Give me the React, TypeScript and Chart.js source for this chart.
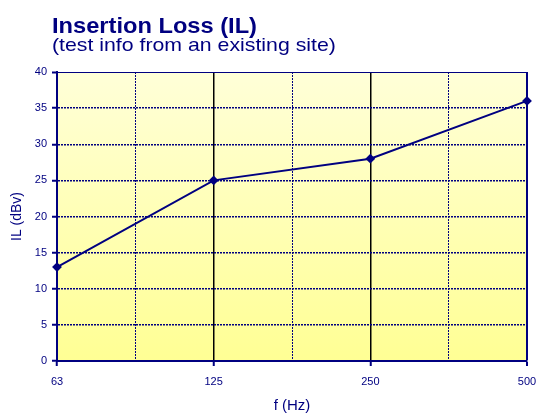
import { useEffect, useRef } from 'react';
import { Chart, registerables } from 'chart.js';

Chart.register(...registerables);

const categories = ['63', '125', '250', '500'];
const ilValues = [13, 25, 28, 36];
const yMin = 0;
const yMax = 40;
const yStep = 5;
const titleText = 'Insertion Loss (IL)';
const subtitleText = '(test info from an existing site)';
const xTitleText = 'f (Hz)';
const yTitleText = 'IL (dBv)';

const NAVY = '#000080';
const FONT = '"Liberation Sans", Arial, sans-serif';

const bgPlugin = {
  id: 'plotBg',
  beforeDraw(chart: any) {
    const { ctx, chartArea } = chart;
    const { left, top, right, bottom } = chartArea;
    const g = ctx.createLinearGradient(0, top, 0, bottom);
    g.addColorStop(0, '#FFFFD8');
    g.addColorStop(1, '#FFFF94');
    ctx.save();
    ctx.fillStyle = g;
    ctx.fillRect(left, top, right - left, bottom - top);
    ctx.restore();
  },
};

const titlePlugin = {
  id: 'stretchedTitle',
  afterDraw(chart: any) {
    const { ctx } = chart;
    ctx.save();
    ctx.fillStyle = NAVY;
    ctx.textBaseline = 'alphabetic';
    ctx.textAlign = 'left';
    ctx.font = `bold 22px ${FONT}`;
    ctx.translate(52, 33);
    ctx.scale(1.075, 1);
    ctx.fillText(titleText, 0, 0);
    ctx.restore();
    ctx.save();
    ctx.fillStyle = NAVY;
    ctx.textBaseline = 'alphabetic';
    ctx.textAlign = 'left';
    ctx.font = `19px ${FONT}`;
    ctx.translate(52, 51);
    ctx.scale(1.12, 1);
    ctx.fillText(subtitleText, 0, 0);
    ctx.restore();
  },
};

const isMajor = (v: number) => Math.abs(v - Math.round(v)) < 1e-6;

export default function App() {
  const ref = useRef<HTMLCanvasElement | null>(null);

  useEffect(() => {
    if (!ref.current) return;
    const points = ilValues.map((v, i) => ({ x: i, y: v }));
    const chart = new Chart(ref.current, {
      type: 'line',
      data: {
        datasets: [
          {
            data: points,
            borderColor: NAVY,
            backgroundColor: NAVY,
            borderWidth: 2,
            pointStyle: 'rectRot',
            pointRadius: 3.5,
            pointBackgroundColor: NAVY,
            pointBorderColor: NAVY,
            tension: 0,
            clip: false as any,
          },
        ],
      },
      options: {
        responsive: false,
        animation: false,
        layout: { padding: { top: 72, right: 10, left: 0, bottom: 0 } },
        plugins: {
          legend: { display: false },
          tooltip: { enabled: false },
          title: { display: false },
        },
        scales: {
          x: {
            type: 'linear',
            min: 0,
            max: categories.length - 1,
            afterFit(scale: any) {
              scale.height = 54;
              scale.paddingLeft = 0;
              scale.paddingRight = 0;
            },
            ticks: {
              stepSize: 0.5,
              autoSkip: false,
              maxRotation: 0,
              padding: 9,
              color: NAVY,
              font: { family: FONT, size: 11 },
              callback: (v: any) => (isMajor(Number(v)) ? categories[Math.round(Number(v))] : ''),
            },
            grid: {
              drawOnChartArea: true,
              tickLength: 5,
              color: (c: any) => {
                const v = c.tick ? c.tick.value : 0;
                if (!isMajor(v)) return NAVY;
                if (v === 0 || v === categories.length - 1) return NAVY;
                return '#000000';
              },
              lineWidth: (c: any) => {
                const v = c.tick ? c.tick.value : 0;
                if (v === categories.length - 1) return 2;
                if (isMajor(v)) return 1.5;
                return 1;
              },
              tickColor: (c: any) => {
                const v = c.tick ? c.tick.value : 0;
                return isMajor(v) ? NAVY : 'rgba(0,0,0,0)';
              },
              tickWidth: 2,
            },
            border: {
              display: true,
              color: NAVY,
              width: 2,
              dash: (c: any) => {
                if (!c.tick) return [];
                return isMajor(c.tick.value) ? [] : [2, 1];
              },
            },
            title: {
              display: true,
              text: xTitleText,
              color: NAVY,
              font: { family: FONT, size: 15 },
              padding: { top: 0, bottom: 0 },
            },
          },
          y: {
            type: 'linear',
            min: yMin,
            max: yMax,
            afterFit(scale: any) {
              scale.width = 57;
            },
            ticks: {
              stepSize: yStep,
              padding: 5,
              color: NAVY,
              font: { family: FONT, size: 11 },
            },
            grid: {
              tickLength: 5,
              color: NAVY,
              lineWidth: (c: any) => (c.tick && c.tick.value === yMax ? 1 : 1.5),
              tickColor: NAVY,
              tickWidth: 2,
            },
            border: {
              display: true,
              color: NAVY,
              width: 2,
              dash: (c: any) => {
                if (!c.tick) return [];
                return c.tick.value === yMax ? [] : [2, 1];
              },
            },
            title: {
              display: true,
              text: yTitleText,
              color: NAVY,
              font: { family: FONT, size: 14 },
              padding: { top: 9, bottom: 0 },
            },
          },
        },
      },
      plugins: [bgPlugin, titlePlugin],
    });
    return () => chart.destroy();
  }, []);

  return (
    <div style={{ position: 'absolute', left: 0, top: 0, width: 537, height: 415 }}>
      <canvas ref={ref} width={537} height={415} style={{ display: 'block' }} />
    </div>
  );
}
